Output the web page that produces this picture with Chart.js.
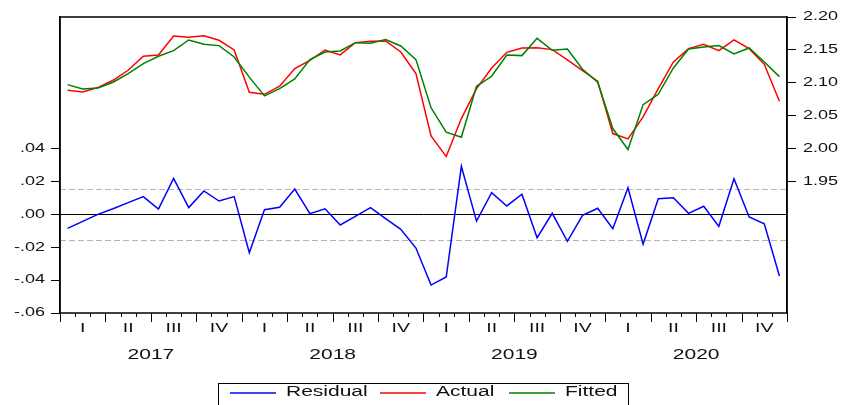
<!DOCTYPE html>
<html>
<head>
<meta charset="utf-8">
<script src="https://cdn.jsdelivr.net/npm/chart.js@4.4.1/dist/chart.umd.min.js"></script>
<style>
  html, body { margin: 0; padding: 0; background: #fff; }
  canvas { display: block; }
</style>
</head>
<body>
<canvas id="residChart" width="841" height="405"></canvas>
<script>
// quarterly axis labels
const years = ['2017', '2018', '2019', '2020'];
const quarterNames = ['I', 'II', 'III', 'IV'];

// monthly series
const residual = [
    -0.0085, -0.0043, 0.0000, 0.0034, 0.0071, 0.0108, 0.0032, 0.0219, 0.0041, 0.0142, 0.0081, 0.0108,
    -0.0233, 0.0028, 0.0043, 0.0154, 0.0004, 0.0034, -0.0065, -0.0012, 0.0041, -0.0026, -0.0091, -0.0205,
    -0.0430, -0.0381, 0.0292, -0.0041, 0.0132, 0.0051, 0.0122, -0.0142, 0.0006, -0.0164, -0.0006, 0.0037,
    -0.0087, 0.0162, -0.0181, 0.0095, 0.0101, 0.0006, 0.0049, -0.0073, 0.0217, -0.0016, -0.0057, -0.0375
];
const actual = [
    2.0886, 2.0861, 2.0927, 2.1038, 2.1190, 2.1403, 2.1423, 2.1711, 2.1691, 2.1716, 2.1646, 2.1499,
    2.0856, 2.0825, 2.0947, 2.1215, 2.1342, 2.1499, 2.1423, 2.1610, 2.1630, 2.1635, 2.1468, 2.1139,
    2.0192, 1.9878, 2.0456, 2.0911, 2.1225, 2.1463, 2.1529, 2.1534, 2.1504, 2.1347, 2.1185, 2.1024,
    2.0228, 2.0147, 2.0481, 2.0911, 2.1316, 2.1519, 2.1585, 2.1489, 2.1651, 2.1519, 2.1281, 2.0719
];
const fitted = [
    2.0972, 2.0906, 2.0922, 2.1008, 2.1139, 2.1291, 2.1403, 2.1489, 2.1651, 2.1585, 2.1565, 2.1392,
    2.1086, 2.0800, 2.0911, 2.1058, 2.1352, 2.1468, 2.1484, 2.1610, 2.1600, 2.1656, 2.1559, 2.1352,
    2.0620, 2.0248, 2.0172, 2.0947, 2.1099, 2.1423, 2.1413, 2.1676, 2.1494, 2.1514, 2.1205, 2.1008,
    2.0304, 1.9985, 2.0668, 2.0825, 2.1225, 2.1514, 2.1544, 2.1565, 2.1438, 2.1529, 2.1316, 2.1094
];
const residBand = 0.0156; // +/- 1 S.E.

const months = [];
years.forEach(y => {
    for (let m = 1; m <= 12; m++) months.push(y + 'M' + String(m).padStart(2, '0'));
});

const FONT = 'Arial, "Liberation Sans", sans-serif';
const SX = 1.5; // text in the reference is stretched sideways

function wideText(ctx, text, x, y, align, size) {
    ctx.save();
    ctx.font = 'normal ' + size + 'px ' + FONT;
    ctx.fillStyle = '#111';
    ctx.textBaseline = 'middle';
    ctx.textAlign = align;
    ctx.translate(x, y);
    ctx.scale(SX, 1);
    ctx.fillText(text, 0, 0);
    ctx.restore();
}

function leftFmt(v) {
    let s = Math.abs(v).toFixed(2).replace(/^0/, '');
    return (v < -1e-9 ? '-' : '') + s;
}

const eviewsPlugin = {
    id: 'eviews',
    beforeDatasetsDraw(chart) {
        const ctx = chart.ctx;
        const area = chart.chartArea;
        const y = chart.scales.y;
        ctx.save();
        ctx.lineWidth = 1.2;
        ctx.strokeStyle = '#b4b4b4';
        ctx.setLineDash([6, 3]);
        [residBand, -residBand].forEach(v => {
            const py = Math.round(y.getPixelForValue(v)) + 0.5;
            ctx.beginPath();
            ctx.moveTo(area.left, py);
            ctx.lineTo(area.right, py);
            ctx.stroke();
        });
        ctx.setLineDash([]);
        ctx.strokeStyle = '#000';
        ctx.lineWidth = 1;
        const z = Math.round(y.getPixelForValue(0)) + 0.5;
        ctx.beginPath();
        ctx.moveTo(area.left, z);
        ctx.lineTo(area.right, z);
        ctx.stroke();
        ctx.restore();
    },
    afterDraw(chart) {
        const ctx = chart.ctx;
        const area = chart.chartArea;
        const x = chart.scales.x;
        const yl = chart.scales.y;
        const yr = chart.scales.y1;

        ctx.save();
        // frame
        ctx.strokeStyle = '#000';
        ctx.lineWidth = 1.5;
        ctx.strokeRect(area.left, area.top, area.right - area.left, area.bottom - area.top);

        // month ticks on the time axis
        const step = x.getPixelForValue(1) - x.getPixelForValue(0);
        ctx.lineWidth = 1;
        for (let i = 0; i <= months.length; i++) {
            const px = Math.round(x.getPixelForValue(i) - step / 2) + 0.5;
            const len = (i % 3 === 0) ? 9 : 4;
            ctx.beginPath();
            ctx.moveTo(px, area.bottom);
            ctx.lineTo(px, area.bottom + len);
            ctx.stroke();
        }
        ctx.restore();

        // quarter and year labels
        for (let q = 0; q < months.length / 3; q++) {
            const cx = (x.getPixelForValue(q * 3) + x.getPixelForValue(q * 3 + 2)) / 2;
            wideText(ctx, quarterNames[q % 4], cx, area.bottom + 15, 'center', 13);
        }
        years.forEach((yr0, k) => {
            const cx = (x.getPixelForValue(k * 12) + x.getPixelForValue(k * 12 + 11)) / 2;
            wideText(ctx, yr0, cx, area.bottom + 42, 'center', 14);
        });

        // y tick labels
        yl.ticks.forEach(t => {
            wideText(ctx, leftFmt(t.value), yl.right - 15, yl.getPixelForValue(t.value), 'right', 12);
        });
        yr.ticks.forEach(t => {
            wideText(ctx, t.value.toFixed(2), yr.left + 16, yr.getPixelForValue(t.value), 'left', 12);
        });

        // legend box
        const lx = 218, ly = 383, lw = 410;
        ctx.save();
        ctx.strokeStyle = '#000';
        ctx.lineWidth = 1;
        ctx.strokeRect(lx + 0.5, ly + 0.5, lw, 40);
        ctx.restore();
        const items = [
            { ds: chart.data.datasets[0], x0: 230 },
            { ds: chart.data.datasets[1], x0: 380 },
            { ds: chart.data.datasets[2], x0: 509 }
        ];
        items.forEach(it => {
            ctx.save();
            ctx.strokeStyle = it.ds.borderColor;
            ctx.lineWidth = 1.5;
            ctx.beginPath();
            ctx.moveTo(it.x0, 393);
            ctx.lineTo(it.x0 + 46, 393);
            ctx.stroke();
            ctx.restore();
            wideText(ctx, it.ds.label, it.x0 + 56, 392, 'left', 14);
        });
    }
};

new Chart(document.getElementById('residChart').getContext('2d'), {
    type: 'line',
    data: {
        labels: months,
        datasets: [
            { label: 'Residual', data: residual, yAxisID: 'y', borderColor: '#0000ff', borderWidth: 1.5, pointRadius: 0, tension: 0, order: 3 },
            { label: 'Actual', data: actual, yAxisID: 'y1', borderColor: '#ff0000', borderWidth: 1.5, pointRadius: 0, tension: 0, order: 2 },
            { label: 'Fitted', data: fitted, yAxisID: 'y1', borderColor: '#008000', borderWidth: 1.5, pointRadius: 0, tension: 0, order: 1 }
        ]
    },
    options: {
        responsive: false,
        animation: false,
        devicePixelRatio: 1,
        layout: { padding: { top: 17, bottom: 92, left: 0, right: 0 } },
        plugins: {
            legend: { display: false },
            tooltip: { enabled: false },
            title: { display: false }
        },
        scales: {
            x: {
                type: 'category',
                display: false,
                offset: true
            },
            y: {
                position: 'left',
                min: -0.06,
                max: 0.12,
                afterBuildTicks: s => { s.ticks = s.ticks.filter(t => t.value <= 0.04 + 1e-9); },
                afterFit: s => { s.width = 60; },
                ticks: { display: false, stepSize: 0.02 },
                grid: { drawOnChartArea: false, drawTicks: true, tickLength: 9, color: '#000' },
                border: { display: true, color: '#000', width: 1.5 }
            },
            y1: {
                position: 'right',
                min: 1.75,
                max: 2.20,
                afterBuildTicks: s => { s.ticks = s.ticks.filter(t => t.value >= 1.95 - 1e-9); },
                afterFit: s => { s.width = 54; },
                ticks: { display: false, stepSize: 0.05 },
                grid: { drawOnChartArea: false, drawTicks: true, tickLength: 9, color: '#000' },
                border: { display: true, color: '#000', width: 1.5 }
            }
        }
    },
    plugins: [eviewsPlugin]
});
</script>
</body>
</html>
